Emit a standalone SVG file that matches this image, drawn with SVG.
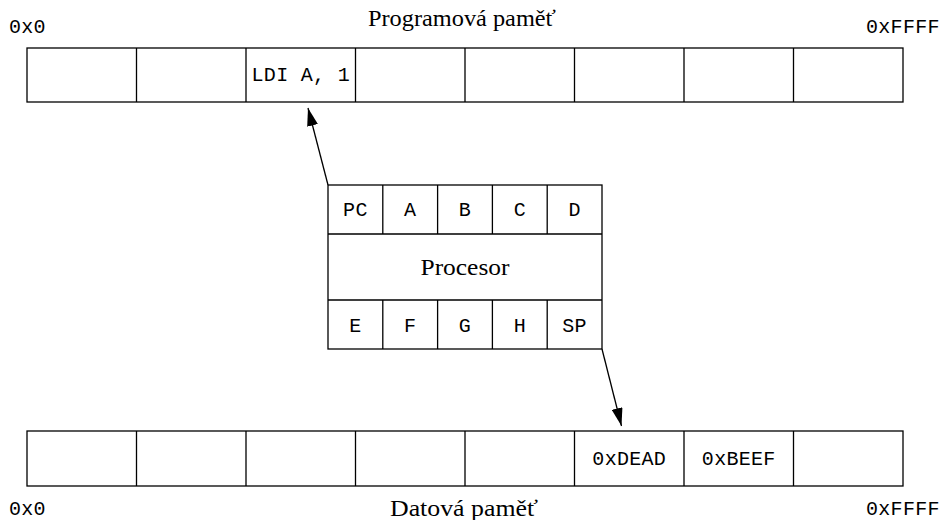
<svg xmlns="http://www.w3.org/2000/svg" width="943" height="520" viewBox="0 0 943 520">
<style>
.box{fill:#fff;stroke:#000;stroke-width:1.3}
.ln{stroke:#000;stroke-width:1.3;fill:none}
.mono{font-family:"Liberation Mono","DejaVu Sans Mono",monospace;font-size:20px;fill:#000;letter-spacing:0.3px}
.ser{font-family:"Liberation Serif","DejaVu Serif",serif;font-size:23px;fill:#000}
.c{text-anchor:middle}
</style>
<defs>
<marker id="ah" viewBox="0 0 18 11" refX="18" refY="5.5" markerWidth="18" markerHeight="11" markerUnits="userSpaceOnUse" orient="auto">
<path d="M0,0 L18,5.5 L0,11 Z" fill="#000"/>
</marker>
</defs>
<g id="program-memory">
<rect class="box" x="27" y="48" width="876" height="54"/>
<path class="ln" d="M136.5,48V102M246,48V102M355.5,48V102M465,48V102M574.5,48V102M684,48V102M793.5,48V102"/>
<text class="mono c" x="300.75" y="81">LDI A, 1</text>
<text class="ser c" x="462" y="26" textLength="188" lengthAdjust="spacingAndGlyphs">Programová paměť</text>
<text class="mono" x="9" y="33">0x0</text>
<text class="mono" x="866" y="33">0xFFFF</text>
</g>
<g id="processor">
<rect class="box" x="328" y="185" width="274" height="164"/>
<path class="ln" d="M328,234H602M328,300H602M382.8,185V234M437.6,185V234M492.4,185V234M547.2,185V234M382.8,300V349M437.6,300V349M492.4,300V349M547.2,300V349"/>
<text class="mono c" x="355.4" y="216">PC</text>
<text class="mono c" x="410.2" y="216">A</text>
<text class="mono c" x="465" y="216">B</text>
<text class="mono c" x="519.8" y="216">C</text>
<text class="mono c" x="574.6" y="216">D</text>
<text class="ser c" x="465" y="275" textLength="89" lengthAdjust="spacingAndGlyphs">Procesor</text>
<text class="mono c" x="355.4" y="332">E</text>
<text class="mono c" x="410.2" y="332">F</text>
<text class="mono c" x="465" y="332">G</text>
<text class="mono c" x="519.8" y="332">H</text>
<text class="mono c" x="574.6" y="332">SP</text>
</g>
<g id="data-memory">
<rect class="box" x="27" y="431" width="876" height="55"/>
<path class="ln" d="M136.5,431V486M246,431V486M355.5,431V486M465,431V486M574.5,431V486M684,431V486M793.5,431V486"/>
<text class="mono c" x="629.25" y="465">0xDEAD</text>
<text class="mono c" x="738.75" y="465">0xBEEF</text>
<text class="ser c" x="464" y="516" textLength="148" lengthAdjust="spacingAndGlyphs">Datová paměť</text>
<text class="mono" x="9" y="515">0x0</text>
<text class="mono" x="866" y="515">0xFFFF</text>
</g>
<g id="connectors">
<line class="ln" x1="328" y1="185" x2="308" y2="108" marker-end="url(#ah)"/>
<line class="ln" x1="602" y1="349" x2="621.5" y2="426" marker-end="url(#ah)"/>
</g>
</svg>
